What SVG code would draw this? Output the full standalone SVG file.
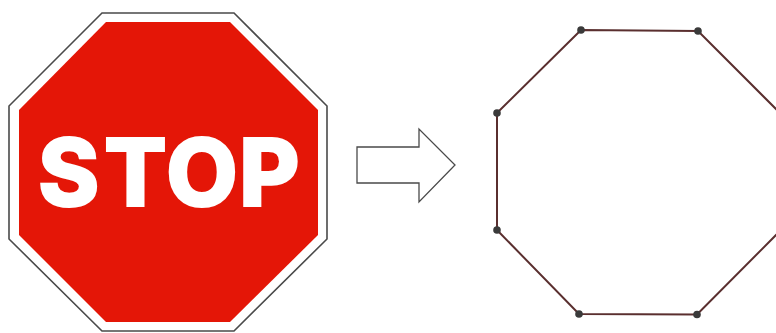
<svg xmlns="http://www.w3.org/2000/svg" width="776" height="333" viewBox="0 0 776 333">
  <style>
    .edge{fill:none;stroke:#5a2f2f;stroke-width:2}
    .dot{fill:#3a3a3a}
    .stop{font-family:"Inter","Liberation Sans",sans-serif;font-weight:800;font-size:93px;fill:#fff;stroke:#fff;stroke-width:2;stroke-linejoin:miter}
  </style>
  <rect width="776" height="333" fill="#fff"/>
  <g id="stop-sign">
    <polygon points="102,13 234,13 327,106 327,239 234,331 102,331 9,239 9,106" fill="#fff" stroke="#4a4a4a" stroke-width="1.6"/>
    <polygon points="106,22 230,22 318,110 318,235 230,322 106,322 19,235 19,110" fill="#e41607"/>
    <text class="stop" y="206" x="38 104 166 239">STOP</text>
  </g>
  <g id="arrow">
    <polygon points="357,147 419,147 419,129 455,165 419,202 419,183 357,183" fill="#fff" stroke="#4a4a4a" stroke-width="1.3"/>
  </g>
  <g id="connectors">
    <path class="edge" d="M581,30 L698,31 L781,114 M781,230 L697,314.5 L579,314 L497,230 L497,113 L581,30"/>
  </g>
  <g id="node-1"><circle class="dot" cx="581" cy="30" r="3.8"/></g>
  <g id="node-2"><circle class="dot" cx="698" cy="31" r="3.8"/></g>
  <g id="node-3"><circle class="dot" cx="497" cy="113" r="3.8"/></g>
  <g id="node-4"><circle class="dot" cx="497" cy="230" r="3.8"/></g>
  <g id="node-5"><circle class="dot" cx="579" cy="314" r="3.8"/></g>
  <g id="node-6"><circle class="dot" cx="697" cy="314.5" r="3.8"/></g>
</svg>
